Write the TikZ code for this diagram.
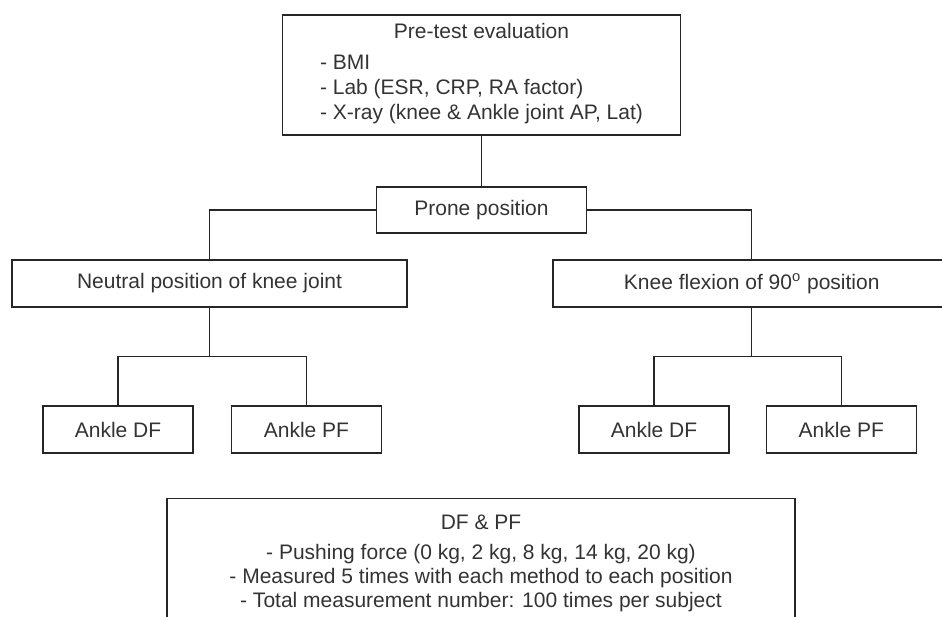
\documentclass[tikz,border=0pt]{standalone}
\usepackage{fontspec}
\setmainfont{Liberation Sans}
\usetikzlibrary{positioning}
\usepackage{xcolor}

\begin{document}
\begin{tikzpicture}[x=0.5pt, y=-0.5pt,
  box/.style={draw=black!85, line width=0.6pt, text=black!80, inner sep=0pt,
    font=\fontsize{10.5}{12.5}\selectfont},
  ankle/.style={box, minimum width=75pt, minimum height=23.5pt},
  link/.style={draw=black!85, line width=0.6pt}]
\useasboundingbox (0,0) rectangle (942,616);

\node[box, minimum width=199pt, minimum height=60pt, align=center] (pre) at (481.5,75) {Pre-test evaluation\\[3.35pt]
  \begin{tabular}[t]{@{}l@{}}- BMI\\ - Lab (ESR, CRP, RA factor)\\ - X-ray (knee \& Ankle joint AP, Lat)\end{tabular}};

\node[box, minimum width=105pt, minimum height=23pt] (prone) at (481.5,210) {Prone position};

\node[box, minimum width=197.5pt, minimum height=23.5pt] (neutral) at (209.5,283.5) {Neutral position of knee joint};
\node[box, minimum width=198.7pt, minimum height=23.5pt] (flexion) at (751.7,283.5) {Knee flexion of 90\textsuperscript{o} position};

\node[ankle] (dfl) at (118,429.5) {Ankle DF};
\node[ankle] (pfl) at (306.5,429.5) {Ankle PF};
\node[ankle] (dfr) at (654,429.5) {Ankle DF};
\node[ankle] (pfr) at (841.3,429.5) {Ankle PF};

\node[box, anchor=north, minimum width=314pt, minimum height=65pt, align=center,
  font=\fontsize{10.5}{12}\selectfont] (meas) at (481,498) {DF \& PF\\[3pt]
  - Pushing force (0 kg, 2 kg, 8 kg, 14 kg, 20 kg)\\
  - Measured 5 times with each method to each position\\
  - Total measurement number: 100 times per subject};

\path (neutral.south) ++(0,48.5) coordinate (nsplit);
\path (flexion.south) ++(0,48.5) coordinate (fsplit);

\draw[link] (pre) -- (prone);
\draw[link] (prone.west) -| (neutral.north);
\draw[link] (prone.east) -| (flexion.north);

\draw[link] (neutral.south) -- (nsplit);
\draw[link] (nsplit) -| (dfl.north);
\draw[link] (nsplit) -| (pfl.north);

\draw[link] (flexion.south) -- (fsplit);
\draw[link] (fsplit) -| (dfr.north);
\draw[link] (fsplit) -| (pfr.north);

\end{tikzpicture}
\end{document}
